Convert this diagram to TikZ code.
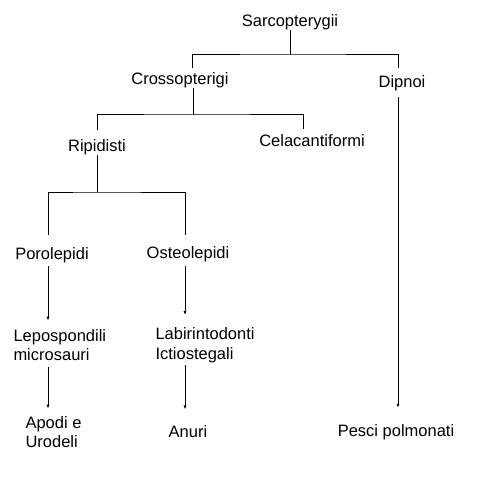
\documentclass[tikz,border=0pt]{standalone}
\usepackage{fontspec}
\setmainfont{Liberation Sans}
\usetikzlibrary{arrows.meta}
\begin{document}
\begin{tikzpicture}[x=1pt,y=-1pt,line width=1pt,
    every node/.style={inner sep=0pt,align=left,font=\fontsize{16.5}{19.5}\selectfont},
    arr/.style={-{Latex[length=4pt,width=3pt]}}]
  \useasboundingbox (0,0) rectangle (500,500);
  \path
    (290,22) node (sarc){Sarcopterygii}
    (180,80) node (cross){Crossopterigi}
    (402,83) node (dipnoi){Dipnoi}
    (97,147) node (ripid){Ripidisti}
    (312,141) node (cela){Celacantiformi}
    (52,255) node (porol){Porolepidi}
    (188,254) node (osteo){Osteolepidi}
    (13,345) node[anchor=west] (lepo){Lepospondili\\microsauri}
    (155,345) node[anchor=west] (labi){Labirintodonti\\Ictiostegali}
    (25,432) node[anchor=west] (apodi){Apodi e\\Urodeli}
    (188,432) node (anuri){Anuri}
    (396,432) node (pesci){Pesci polmonati};
  % junctions of the brackets
  \coordinate (k0) at (290,55);
  \coordinate (k1) at (193,115);
  \coordinate (k2) at (97,192);
  \coordinate (l0) at (192,68);
  \coordinate (r0) at (398,68);
  \coordinate (l1) at (97,130);
  \coordinate (r1) at (303,129);
  \coordinate (l2) at (48,235);
  \coordinate (r2) at (185,235);
  \begin{scope}[-]
    \draw (sarc) -- (k0);
    \draw (l0) |- (k0) -| (r0);
    \draw (cross.south -| k1) -- (k1);
    \draw (l1) |- (k1) -| (r1);
    \draw (ripid) -- (k2);
    \draw (l2) |- (k2) -| (r2);
  \end{scope}
  \begin{scope}[arr]
    \draw[shorten <=3pt,shorten >=8pt] (porol.south -| l2) -- (lepo.north -| l2);
    \draw[shorten <=4pt,shorten >=12pt] (osteo.south -| r2) -- (labi.north -| r2);
    \draw[shorten <=6pt,shorten >=7pt] (lepo.south -| l2) -- (apodi.north -| l2);
    \draw[shorten <=2pt,shorten >=16pt] (labi.south -| r2) -- (anuri.north -| r2);
    \draw[shorten <=6pt,shorten >=16pt] (dipnoi.south -| r0) -- (pesci.north -| r0);
  \end{scope}
\end{tikzpicture}
\end{document}
